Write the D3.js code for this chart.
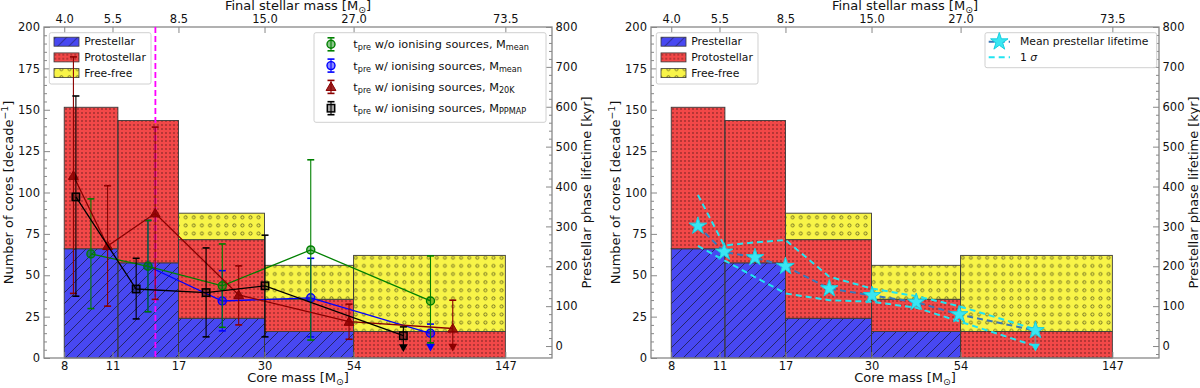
<!DOCTYPE html>
<meta charset="utf-8">
<script src="https://d3js.org/d3.v7.min.js"></script>
<body style="margin:0;background:#fff">
<div id="draw"></div>
</body>
<script>

// ---- histogram (cores per decade) ----
var binEdges = [8, 11.4, 17, 30, 54, 147];
var components = ["Prestellar", "Protostellar", "Free-free"];
var prestellar = [66, 57.5, 24, 16, 0];
var protostellar = [85.5, 86, 47.5, 19.5, 16];
var freefree = [0, 0, 16, 20.5, 46];

// ---- tick values / labels ----
var coreTicks = [8, 11, 17, 30, 54, 147];
var stellarTickLabels = ["4.0", "5.5", "8.5", "15.0", "27.0", "73.5"];
var countTicks = [0, 25, 50, 75, 100, 125, 150, 175, 200];
var lifeTicks = [0, 100, 200, 300, 400, 500, 600, 700, 800];

// ---- left panel: prestellar lifetimes (kyr) ----
var noIonMass = [9.54, 13.9, 22.7, 40.7, 89.7];
var noIonT = [231, 200, 151, 241, 113];
var noIonLo = [94, 86, 47, 15, 8];
var noIonHi = [369, 315, 256, 467, 226];

var ionMass = [13.9, 22.7, 40.7, 89.7];
var ionT = [200, 113, 121, 32];
var ionLo = [86, 38, 23, -6];
var ionHi = [315, 189, 220, 55];
var ionLim = [false, false, false, true];

var m20Mass = [8.5, 10.65, 14.58, 25.3, 52.4, 103.9];
var m20T = [427, 251, 333, 128, 61, 44];
var m20Lo = [132, 100, 117, 53, 17, -6];
var m20Hi = [725, 402, 549, 201, 105, 115];
var m20Lim = [false, false, false, false, false, true];

var ppmapMass = [8.64, 12.86, 20.4, 30.1, 75];
var ppmapT = [374, 143, 134, 151, 26];
var ppmapLo = [125, 68, 23, 23, -7];
var ppmapHi = [627, 220, 246, 278, 48];
var ppmapLim = [false, false, false, false, true];

var cutMass = 14.6;

// ---- right panel: mean prestellar lifetime ----
var meanMass = [9.54, 11.35, 13.9, 17.0, 22.7, 30.1, 40.3, 53.5, 88.5];
var meanT = [301, 236, 222, 200, 144, 127, 110, 79, 39];
var sigmaHi = [379, 252, 260, 266, 174, 144, 125, 100, 42];
var sigmaLo = [251, 215, 173, 132, 115, 111, 96, 62, 0];
var meanLimLo = -6;

var FONT = "DejaVu Sans, sans-serif";
var width = 1200, height = 388;
var top0 = 27, plotW = 508, plotH = 331;
var panelLeft = [44, 651];

var svg = d3.select("#draw").append("svg")
  .attr("width", width).attr("height", height)
  .style("font-family", FONT);

var defs = svg.append("defs");
var pSlash = defs.append("pattern").attr("id", "hSlash")
  .attr("patternUnits", "userSpaceOnUse").attr("width", 11).attr("height", 11);
pSlash.append("path").attr("d", "M-1,1 l2,-2 M0,11 l11,-11 M10,12 l2,-2")
  .attr("stroke", "#1c1c48").attr("stroke-width", 0.8);
var pDots = defs.append("pattern").attr("id", "hDots")
  .attr("patternUnits", "userSpaceOnUse").attr("width", 4).attr("height", 4);
pDots.append("circle").attr("cx", 2).attr("cy", 2).attr("r", 0.7).attr("fill", "#4a1414");
var pRings = defs.append("pattern").attr("id", "hRings")
  .attr("patternUnits", "userSpaceOnUse").attr("width", 8.1).attr("height", 8.1);
pRings.append("circle").attr("cx", 4).attr("cy", 4).attr("r", 1.5)
  .attr("fill", "none").attr("stroke", "#55551a").attr("stroke-width", 0.8);

var x = d3.scaleLog().domain([7, 200]).range([0, plotW]);
var yL = d3.scaleLinear().domain([0, 200]).range([plotH, 0]);
var yR = d3.scaleLinear().domain([-30, 800]).range([plotH, 0]);

var layers = [
  {name: components[0], vals: prestellar, fill: "#4848f2", hatch: "url(#hSlash)"},
  {name: components[1], vals: protostellar, fill: "#f24848", hatch: "url(#hDots)"},
  {name: components[2], vals: freefree, fill: "#f8f448", hatch: "url(#hRings)"}
];

// text with sub/superscripts: parts = [[text, "sub"|"super"|null, italic?]]
function richText(t, parts, size) {
  parts.forEach(function(p) {
    var ts = t.append("tspan").text(p[0]);
    if (p[1] === "sub") ts.attr("baseline-shift", -0.2 * size).attr("font-size", size * 0.72);
    if (p[1] === "super") ts.attr("baseline-shift", 0.38 * size).attr("font-size", size * 0.72);
    if (p[2]) ts.attr("font-style", "italic");
  });
}

function drawPanel(px) {
  var g = svg.append("g").attr("transform", "translate(" + px + "," + top0 + ")");

  // stacked bars
  var base = binEdges.slice(0, -1).map(function() { return 0; });
  layers.forEach(function(L) {
    var segs = L.vals.map(function(v, i) {
      var s = {x0: binEdges[i], x1: binEdges[i + 1], y0: base[i], y1: base[i] + v};
      base[i] += v;
      return s;
    }).filter(function(s) { return s.y1 > s.y0; });
    [L.fill, L.hatch].forEach(function(f, k) {
      g.selectAll(null).data(segs).enter().append("rect")
        .attr("x", function(d) { return x(d.x0); })
        .attr("width", function(d) { return x(d.x1) - x(d.x0); })
        .attr("y", function(d) { return yL(d.y1); })
        .attr("height", function(d) { return yL(d.y0) - yL(d.y1); })
        .attr("fill", f)
        .attr("stroke", k ? "#3a3a3a" : "none")
        .attr("stroke-width", 0.9);
    });
  });

  // axes
  var axB = g.append("g").attr("transform", "translate(0," + plotH + ")")
    .call(d3.axisBottom(x).tickValues(coreTicks).tickFormat(d3.format("d"))
      .tickSizeInner(-6).tickSizeOuter(0).tickPadding(3.5));
  var axT = g.append("g")
    .call(d3.axisTop(x).tickValues(coreTicks).tickFormat(function(d, i) { return stellarTickLabels[i]; })
      .tickSizeInner(-6).tickSizeOuter(0).tickPadding(4.5));
  var axL = g.append("g")
    .call(d3.axisLeft(yL).tickValues(countTicks).tickSizeInner(-6).tickSizeOuter(0).tickPadding(4));
  var minL = g.append("g")
    .call(d3.axisLeft(yL).tickValues(d3.range(5, 200, 5).filter(function(v) { return v % 25; }))
      .tickFormat("").tickSizeInner(-3).tickSizeOuter(0));
  var axR = g.append("g").attr("transform", "translate(" + plotW + ",0)")
    .call(d3.axisRight(yR).tickValues(lifeTicks).tickSizeInner(-6).tickSizeOuter(0).tickPadding(3.5));
  var minR = g.append("g").attr("transform", "translate(" + plotW + ",0)")
    .call(d3.axisRight(yR).tickValues(d3.range(-20, 800, 20).filter(function(v) { return v % 100; }))
      .tickFormat("").tickSizeInner(-3).tickSizeOuter(0));
  [axB, axT, axL, minL, axR, minR].forEach(function(a) {
    a.attr("font-family", FONT).attr("font-size", 11.5);
    a.select(".domain").remove();
    a.selectAll(".tick line").attr("stroke", "#888").attr("stroke-width", 1);
    a.selectAll(".tick text").attr("fill", "#111");
  });

  g.append("rect").attr("width", plotW).attr("height", plotH)
    .attr("fill", "none").attr("stroke", "#888").attr("stroke-width", 1.3);

  // axis titles
  var t1 = g.append("text").attr("x", plotW / 2).attr("y", 355).attr("text-anchor", "middle")
    .attr("font-size", 13).attr("fill", "#111");
  richText(t1, [["Core mass [M"], ["\u2299", "sub"], ["]"]], 13);
  var t2 = g.append("text").attr("x", plotW / 2).attr("y", -17).attr("text-anchor", "middle")
    .attr("font-size", 13).attr("fill", "#111");
  richText(t2, [["Final stellar mass [M"], ["\u2299", "sub"], ["]"]], 13);
  var t3 = g.append("text").attr("transform", "translate(-31.5," + plotH / 2 + ") rotate(-90)")
    .attr("text-anchor", "middle").attr("font-size", 13).attr("fill", "#111");
  richText(t3, [["Number of cores [decade"], ["\u22121", "super"], ["]"]], 13);
  g.append("text").attr("transform", "translate(" + (plotW + 39) + "," + plotH / 2 + ") rotate(-90)")
    .attr("text-anchor", "middle").attr("font-size", 13).attr("fill", "#111")
    .text("Prestellar phase lifetime [kyr]");

  // bar legend
  var lg = g.append("g").attr("transform", "translate(5.3,5.7)");
  lg.append("rect").attr("width", 101.7).attr("height", 51.3).attr("rx", 2)
    .attr("fill", "#fff").attr("fill-opacity", 0.85).attr("stroke", "#d0d0d0");
  layers.forEach(function(L, i) {
    var yy = 9 + i * 15.7;
    lg.append("rect").attr("x", 4.7).attr("y", yy - 4.5).attr("width", 25).attr("height", 9).attr("fill", L.fill);
    lg.append("rect").attr("x", 4.7).attr("y", yy - 4.5).attr("width", 25).attr("height", 9)
      .attr("fill", L.hatch).attr("stroke", "#3a3a3a").attr("stroke-width", 0.8);
    lg.append("text").attr("x", 35).attr("y", yy).attr("dy", "0.35em")
      .attr("font-size", 10.8).attr("fill", "#111").text(L.name);
  });
  return g;
}

var gl = drawPanel(panelLeft[0]);
var gr = drawPanel(panelLeft[1]);

// ---- left panel overlays ----
gl.append("line").attr("x1", x(cutMass)).attr("x2", x(cutMass)).attr("y1", 0).attr("y2", plotH)
  .attr("stroke", "#ff00ff").attr("stroke-width", 1.8).attr("stroke-dasharray", "6,3");

var downTri = d3.symbol().type(d3.symbolTriangle).size(34);
function marker(sel, shape, color) {
  if (shape === "circle") {
    sel.append("circle").attr("r", 4).attr("fill", color).attr("fill-opacity", 0.45)
      .attr("stroke", color).attr("stroke-width", 1.4);
  } else if (shape === "square") {
    sel.append("rect").attr("x", -3.7).attr("y", -3.7).attr("width", 7.4).attr("height", 7.4)
      .attr("fill", color).attr("fill-opacity", 0.35).attr("stroke", color).attr("stroke-width", 1.5);
  } else {
    sel.append("path").attr("d", d3.symbol().type(d3.symbolTriangle).size(42)())
      .attr("transform", "translate(0,0.8)").attr("fill", color).attr("fill-opacity", 0.85)
      .attr("stroke", color).attr("stroke-width", 1);
  }
}

function drawSeries(g, mass, t, lo, hi, lim, color, shape) {
  var pts = mass.map(function(m, i) {
    return {m: m, t: t[i], lo: lo[i], hi: hi[i], lim: lim ? lim[i] : false};
  });
  g.append("path").datum(pts)
    .attr("d", d3.line().x(function(d) { return x(d.m); }).y(function(d) { return yR(d.t); }))
    .attr("fill", "none").attr("stroke", color).attr("stroke-width", 1.3);
  var e = g.selectAll(null).data(pts).enter().append("g")
    .attr("transform", function(d) { return "translate(" + x(d.m) + ",0)"; });
  e.append("line").attr("y1", function(d) { return yR(d.lo); }).attr("y2", function(d) { return yR(d.hi); })
    .attr("stroke", color).attr("stroke-width", 1.1);
  e.append("line").attr("x1", -3.5).attr("x2", 3.5)
    .attr("y1", function(d) { return yR(d.hi); }).attr("y2", function(d) { return yR(d.hi); })
    .attr("stroke", color).attr("stroke-width", 1.6);
  e.filter(function(d) { return !d.lim; }).append("line").attr("x1", -3.5).attr("x2", 3.5)
    .attr("y1", function(d) { return yR(d.lo); }).attr("y2", function(d) { return yR(d.lo); })
    .attr("stroke", color).attr("stroke-width", 1.6);
  e.filter(function(d) { return d.lim; }).append("path").attr("d", downTri)
    .attr("transform", function(d) { return "translate(0," + (yR(d.lo) - 2) + ") rotate(180)"; })
    .attr("fill", color);
  e.append("g").attr("transform", function(d) { return "translate(0," + yR(d.t) + ")"; })
    .each(function() { marker(d3.select(this), shape, color); });
}

drawSeries(gl, ionMass, ionT, ionLo, ionHi, ionLim, "#0000ff", "circle");
drawSeries(gl, noIonMass, noIonT, noIonLo, noIonHi, null, "#008000", "circle");
drawSeries(gl, m20Mass, m20T, m20Lo, m20Hi, m20Lim, "#8b0000", "triangle");
drawSeries(gl, ppmapMass, ppmapT, ppmapLo, ppmapHi, ppmapLim, "#000000", "square");

// lifetime legend (left)
var seriesLegend = [
  {color: "#008000", shape: "circle", parts: [["t"], ["pre", "sub"], [" w/o ionising sources, M"], ["mean", "sub"]]},
  {color: "#0000ff", shape: "circle", parts: [["t"], ["pre", "sub"], [" w/ ionising sources, M"], ["mean", "sub"]]},
  {color: "#8b0000", shape: "triangle", parts: [["t"], ["pre", "sub"], [" w/ ionising sources, M"], ["20K", "sub"]]},
  {color: "#000000", shape: "square", parts: [["t"], ["pre", "sub"], [" w/ ionising sources, M"], ["PPMAP", "sub"]]}
];
var lg2 = gl.append("g").attr("transform", "translate(270,5.7)");
lg2.append("rect").attr("width", 232).attr("height", 89.6).attr("rx", 2)
  .attr("fill", "#fff").attr("fill-opacity", 0.85).attr("stroke", "#d0d0d0");
seriesLegend.forEach(function(s, i) {
  var yy = 11.6 + i * 21.3;
  var mk = lg2.append("g").attr("transform", "translate(17," + yy + ")");
  mk.append("line").attr("y1", -6.5).attr("y2", 6.5).attr("stroke", s.color).attr("stroke-width", 1.1);
  [-6.5, 6.5].forEach(function(c) {
    mk.append("line").attr("x1", -3.5).attr("x2", 3.5).attr("y1", c).attr("y2", c)
      .attr("stroke", s.color).attr("stroke-width", 1.6);
  });
  marker(mk, s.shape, s.color);
  var t = lg2.append("text").attr("x", 39.3).attr("y", yy).attr("dy", "0.35em")
    .attr("font-size", 11.3).attr("fill", "#111");
  richText(t, s.parts, 11.3);
});

// ---- right panel overlays ----
var meanPts = meanMass.map(function(m, i) { return {m: m, t: meanT[i], hi: sigmaHi[i], lo: sigmaLo[i]}; });
var lineOf = function(key) {
  return d3.line().x(function(d) { return x(d.m); }).y(function(d) { return yR(d[key]); });
};
var last = meanPts[meanPts.length - 1];
gr.append("line").attr("x1", x(last.m)).attr("x2", x(last.m))
  .attr("y1", yR(last.t)).attr("y2", yR(meanLimLo)).attr("stroke", "#888").attr("stroke-width", 1.5);
gr.append("path").attr("d", downTri)
  .attr("transform", "translate(" + x(last.m) + "," + (yR(meanLimLo) - 2) + ") rotate(180)")
  .attr("fill", "#22e0ee");
gr.append("path").datum(meanPts).attr("d", lineOf("t")).attr("fill", "none")
  .attr("stroke", "#3a78b8").attr("stroke-width", 2).attr("stroke-dasharray", "6,4");
["hi", "lo"].forEach(function(k) {
  gr.append("path").datum(meanPts).attr("d", lineOf(k)).attr("fill", "none")
    .attr("stroke", "#22e4f0").attr("stroke-width", 2).attr("stroke-dasharray", "6,4");
});
var star = d3.symbol().type(d3.symbolStar).size(95);
gr.selectAll(null).data(meanPts).enter().append("path").attr("d", star)
  .attr("transform", function(d) { return "translate(" + x(d.m) + "," + yR(d.t) + ")"; })
  .attr("fill", "#3ae6f2").attr("stroke", "#16cfe0").attr("stroke-width", 1);

var lg3 = gr.append("g").attr("transform", "translate(334,5.7)");
lg3.append("rect").attr("width", 171.7).attr("height", 35).attr("rx", 2)
  .attr("fill", "#fff").attr("fill-opacity", 0.85).attr("stroke", "#d0d0d0");
lg3.append("line").attr("x1", 3.7).attr("x2", 25).attr("y1", 9).attr("y2", 9)
  .attr("stroke", "#3a78b8").attr("stroke-width", 2).attr("stroke-dasharray", "6,4");
lg3.append("path").attr("d", star).attr("transform", "translate(14.3,9)")
  .attr("fill", "#3ae6f2").attr("stroke", "#16cfe0");
lg3.append("line").attr("x1", 3.7).attr("x2", 25).attr("y1", 24.6).attr("y2", 24.6)
  .attr("stroke", "#22e4f0").attr("stroke-width", 2).attr("stroke-dasharray", "6,4");
lg3.append("text").attr("x", 35).attr("y", 9).attr("dy", "0.35em").attr("font-size", 10.8)
  .attr("fill", "#111").text("Mean prestellar lifetime");
var t4 = lg3.append("text").attr("x", 35).attr("y", 24.6).attr("dy", "0.35em").attr("font-size", 10.8)
  .attr("fill", "#111");
richText(t4, [["1 "], ["\u03c3", null, true]], 10.8);

</script>
</html>
